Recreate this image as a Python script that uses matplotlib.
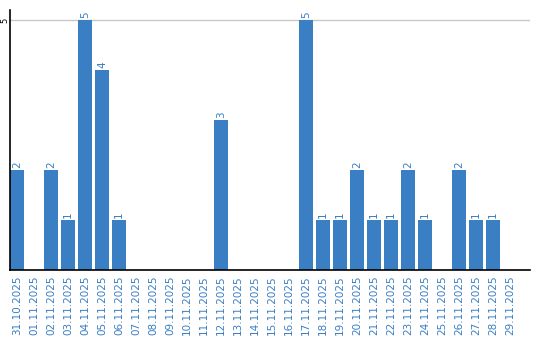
import matplotlib
matplotlib.use("Agg")
import matplotlib.pyplot as plt

dates = ["31.10.2025", "01.11.2025", "02.11.2025", "03.11.2025", "04.11.2025",
         "05.11.2025", "06.11.2025", "07.11.2025", "08.11.2025", "09.11.2025",
         "10.11.2025", "11.11.2025", "12.11.2025", "13.11.2025", "14.11.2025",
         "15.11.2025", "16.11.2025", "17.11.2025", "18.11.2025", "19.11.2025",
         "20.11.2025", "21.11.2025", "22.11.2025", "23.11.2025", "24.11.2025",
         "25.11.2025", "26.11.2025", "27.11.2025", "28.11.2025", "29.11.2025"]
counts = [2, 0, 2, 1, 5, 4, 1, 0, 0, 0, 0, 0, 3, 0, 0, 0, 0, 5, 1, 1,
          2, 1, 1, 2, 1, 0, 2, 1, 1, 0]

BLUE = "#3a7ec4"
W = 14 / 17

fig = plt.figure(figsize=(5.4, 3.4), dpi=100)
ax = fig.add_axes([10 / 540, 70 / 340, 520 / 540, 260 / 340])

xs = list(range(len(dates)))
ax.bar(xs, counts, width=W, align="edge", color=BLUE, zorder=2)
for x, v in zip(xs, counts):
    if v > 0:
        ax.text(x + W / 2, v + 0.04, str(v), rotation=90, ha="center", va="bottom",
                color=BLUE, fontsize=7.5, zorder=3)

ax.set_xlim(0, 30.6)
ax.set_ylim(0, 5.2)
ax.set_xticks([x + W / 2 for x in xs])
ax.set_xticklabels(dates, rotation=90, color=BLUE, fontsize=7.5)
ax.tick_params(axis="x", length=0, pad=4)
ax.set_yticks([5])
ax.set_yticklabels(["5"], rotation=90, va="center", ha="center", fontsize=6)
ax.tick_params(axis="y", length=0, pad=3.6)
ax.axhline(5, color="#c8c8c8", lw=1, zorder=1)

for s in ("top", "right"):
    ax.spines[s].set_visible(False)
ax.spines["left"].set_linewidth(1.2)
ax.spines["bottom"].set_linewidth(1.2)

fig.savefig("out.png", dpi=100, facecolor="white")
